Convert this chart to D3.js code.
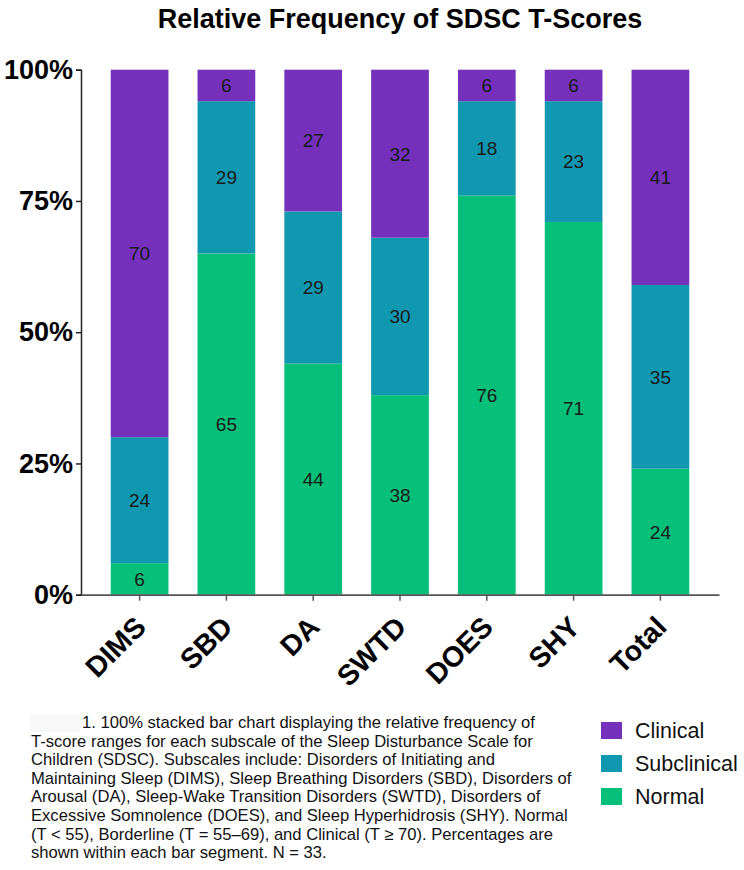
<!DOCTYPE html>
<html>
<head>
<meta charset="utf-8">
<script src="https://cdn.jsdelivr.net/npm/d3@7"></script>
<style>
  body { margin: 0; background: #fff; }
  text { font-family: "Liberation Sans", Arial, sans-serif; }
</style>
</head>
<body>
<div id="chart"></div>
<script>
// Data (percent of N = 33)
const subscales = ["DIMS", "SBD", "DA", "SWTD", "DOES", "SHY", "Total"];
const normal      = [6, 65, 44, 38, 76, 71, 24];
const subclinical = [24, 29, 29, 30, 18, 23, 35];
const clinical    = [70, 6, 27, 32, 6, 6, 41];
const yTicks = [0, 25, 50, 75, 100];

const seriesKeys = ["Normal", "Subclinical", "Clinical"];
const colors = { Clinical: "#7531bc", Subclinical: "#1098b1", Normal: "#06bf78" };

const caption = [
  "1. 100% stacked bar chart displaying the relative frequency of",
  "T-score ranges for each subscale of the Sleep Disturbance Scale for",
  "Children (SDSC). Subscales include: Disorders of Initiating and",
  "Maintaining Sleep (DIMS), Sleep Breathing Disorders (SBD), Disorders of",
  "Arousal (DA), Sleep-Wake Transition Disorders (SWTD), Disorders of",
  "Excessive Somnolence (DOES), and Sleep Hyperhidrosis (SHY). Normal",
  "(T < 55), Borderline (T = 55\u201369), and Clinical (T \u2265 70). Percentages are",
  "shown within each bar segment. N = 33."
];

const width = 744, height = 870;
const plot = { left: 81, right: 719, top: 69.7, bottom: 594.7 };

const svg = d3.select("#chart")
  .append("svg")
  .attr("width", width)
  .attr("height", height);

// build rows for d3.stack
const rows = subscales.map((s, i) => ({
  name: s, Normal: normal[i], Subclinical: subclinical[i], Clinical: clinical[i]
}));
const stacked = d3.stack().keys(seriesKeys)(rows);

// scales
const x = d3.scaleBand()
  .domain(subscales)
  .range([plot.left, plot.right])
  .paddingInner(0.335)
  .paddingOuter(0.3425);

const y = d3.scaleLinear()
  .domain([0, 100])
  .range([plot.bottom, plot.top]);

// title
svg.append("text")
  .attr("x", 400)
  .attr("y", 27.5)
  .attr("text-anchor", "middle")
  .style("font-size", "27px")
  .style("font-weight", "bold")
  .text("Relative Frequency of SDSC T-Scores");

// bars
const layer = svg.selectAll("g.layer")
  .data(stacked)
  .enter()
  .append("g")
  .attr("class", "layer")
  .attr("fill", d => colors[d.key]);

layer.selectAll("rect")
  .data(d => d)
  .enter()
  .append("rect")
  .attr("x", d => x(d.data.name))
  .attr("y", d => y(d[1]))
  .attr("width", x.bandwidth())
  .attr("height", d => y(d[0]) - y(d[1]));

// segment labels
layer.selectAll("text")
  .data(d => d.map(p => ({ p, key: d.key })))
  .enter()
  .append("text")
  .attr("x", d => x(d.p.data.name) + x.bandwidth() / 2)
  .attr("y", d => (y(d.p[0]) + y(d.p[1])) / 2)
  .attr("dy", "0.36em")
  .attr("text-anchor", "middle")
  .attr("fill", "#1a1a1a")
  .style("font-size", "19px")
  .text(d => d.p.data[d.key]);

// y axis
const yAxis = svg.append("g")
  .attr("transform", `translate(${plot.left},0)`)
  .call(d3.axisLeft(y).tickValues(yTicks).tickSize(5).tickFormat(d => d + "%"));
yAxis.select(".domain").attr("stroke", "#222").attr("stroke-width", 1.5);
yAxis.selectAll(".tick line").attr("stroke", "#222").attr("stroke-width", 1.5);
yAxis.selectAll(".tick text")
  .attr("x", -8)
  .attr("fill", "#000")
  .style("font-family", "'Liberation Sans', Arial, sans-serif")
  .style("font-size", "27px")
  .style("font-weight", "bold");

// x axis
const xAxis = svg.append("g")
  .attr("transform", `translate(0,${plot.bottom})`)
  .call(d3.axisBottom(x).tickSize(6).tickSizeOuter(0));
xAxis.select(".domain").attr("stroke", "#555").attr("stroke-width", 1.8);
xAxis.selectAll(".tick line").attr("stroke", "#555").attr("stroke-width", 1.5);
xAxis.selectAll(".tick text")
  .attr("x", 0)
  .attr("y", 0)
  .attr("dy", 0)
  .attr("transform", "translate(8,34) rotate(-45)")
  .attr("text-anchor", "end")
  .attr("fill", "#000")
  .style("font-family", "'Liberation Sans', Arial, sans-serif")
  .style("font-size", "28.5px")
  .style("font-weight", "bold");

// caption
svg.append("rect")
  .attr("x", 30).attr("y", 714)
  .attr("width", 50).attr("height", 18)
  .attr("fill", "#f8f8f8");

const cap = svg.append("text")
  .attr("fill", "#111")
  .style("font-size", "16.6px");
cap.selectAll("tspan")
  .data(caption)
  .enter()
  .append("tspan")
  .attr("x", (d, i) => i === 0 ? 82 : 31)
  .attr("y", (d, i) => 728 + i * 18.6)
  .text(d => d);

// legend
const legendKeys = ["Clinical", "Subclinical", "Normal"];
const legend = svg.append("g").attr("transform", "translate(601,722)");
const item = legend.selectAll("g")
  .data(legendKeys)
  .enter()
  .append("g")
  .attr("transform", (d, i) => `translate(0,${i * 33})`);
item.append("rect")
  .attr("width", 21)
  .attr("height", 17)
  .attr("fill", d => colors[d]);
item.append("text")
  .attr("x", 34)
  .attr("y", 16)
  .attr("fill", "#111")
  .style("font-size", "21.5px")
  .text(d => d);
</script>
</body>
</html>
